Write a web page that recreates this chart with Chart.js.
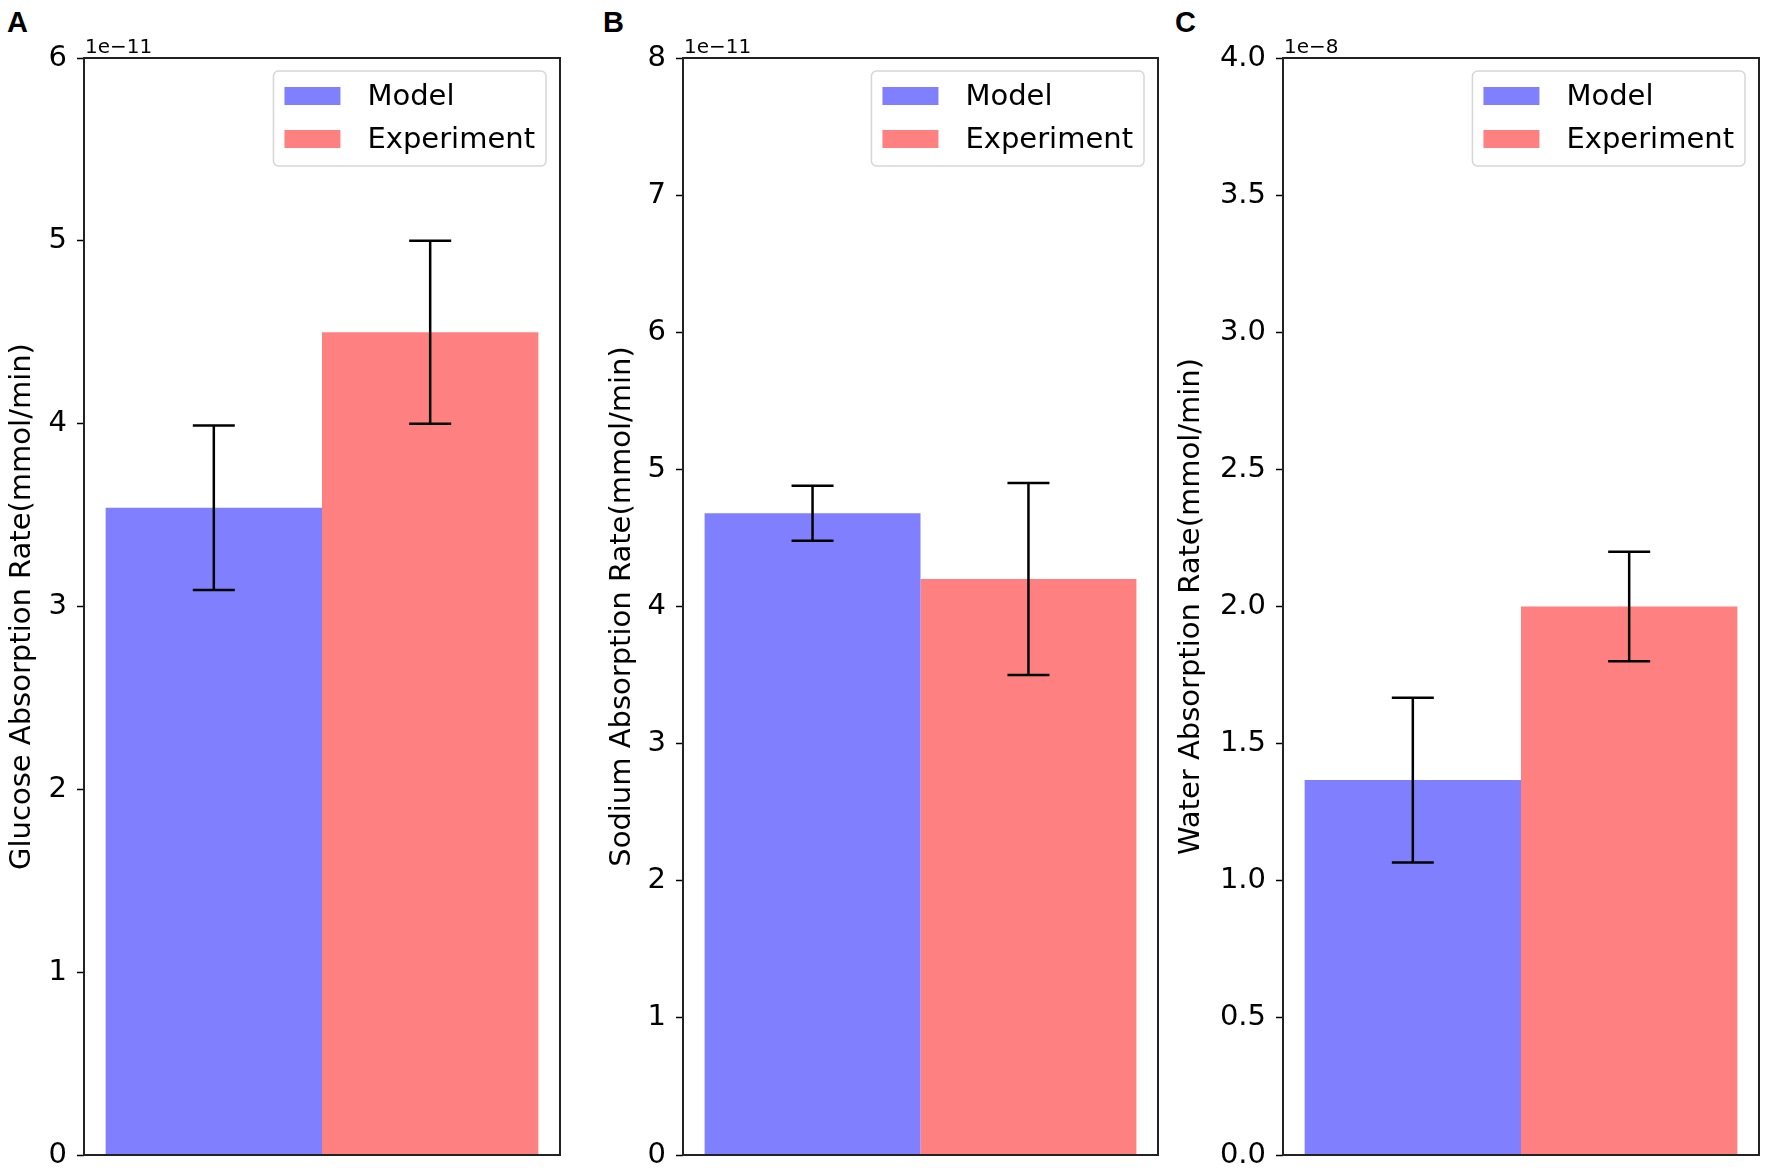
<!DOCTYPE html>
<html lang="en">
  <head>
    <meta charset="UTF-8" />
    <title>Absorption Rates: Model vs Experiment</title>
    <script src="https://cdn.jsdelivr.net/npm/chart.js"></script>
    <style>
      body { margin: 0; background: #fff; }
      .panel { position: absolute; top: 0; }
      .letter {
        position: absolute;
        top: 8px;
        font: bold 29px "Liberation Sans", Arial, sans-serif;
        line-height: 1;
        color: #000;
      }
    </style>
  </head>
  <body>
    <div class="letter" style="left: 7px">A</div>
    <div class="letter" style="left: 603px">B</div>
    <div class="letter" style="left: 1175px">C</div>

    <canvas id="chartA" class="panel" style="left: 0px" width="580" height="1174"></canvas>
    <canvas id="chartB" class="panel" style="left: 600px" width="572" height="1174"></canvas>
    <canvas id="chartC" class="panel" style="left: 1172px" width="600" height="1174"></canvas>

    <script>
      // values are in units of the offset shown above each axis
      const seriesLabels = ["Model", "Experiment"];
      const modelValues = [3.54, 4.68, 1.367];
      const modelErrors = [0.45, 0.2, 0.3];
      const experimentValues = [4.5, 4.2, 2.0];
      const experimentErrors = [0.5, 0.7, 0.2];

      const yTitles = [
        "Glucose Absorption Rate(mmol/min)",
        "Sodium Absorption Rate(mmol/min)",
        "Water Absorption Rate(mmol/min)",
      ];
      const yMax = [6, 8, 4];
      const yStep = [1, 1, 0.5];
      const yDecimals = [0, 0, 1];
      const offsetTexts = ["1e\u221211", "1e\u221211", "1e\u22128"];

      const FONT = "'DejaVu Sans', sans-serif";

      const errorBarPlugin = {
        id: "errorBars",
        afterDatasetsDraw(chart) {
          const ctx = chart.ctx;
          const y = chart.scales.y;
          ctx.save();
          ctx.strokeStyle = "#000";
          ctx.lineWidth = 2.5;
          chart.data.datasets.forEach((ds, i) => {
            const bar = chart.getDatasetMeta(i).data[0];
            const v = ds.data[0];
            const e = ds.errorBars[0];
            const top = y.getPixelForValue(v + e);
            const bot = y.getPixelForValue(v - e);
            ctx.beginPath();
            ctx.moveTo(bar.x, top);
            ctx.lineTo(bar.x, bot);
            ctx.moveTo(bar.x - 21, top);
            ctx.lineTo(bar.x + 21, top);
            ctx.moveTo(bar.x - 21, bot);
            ctx.lineTo(bar.x + 21, bot);
            ctx.stroke();
          });
          ctx.restore();
        },
      };

      const framePlugin = {
        id: "frame",
        afterDraw(chart, args, opts) {
          const { ctx, chartArea: a } = chart;
          ctx.save();
          ctx.strokeStyle = "#222";
          ctx.lineWidth = 2;
          ctx.strokeRect(a.left, a.top, a.right - a.left, a.bottom - a.top);

          // offset text above the axis
          ctx.fillStyle = "#000";
          ctx.font = "20px " + FONT;
          ctx.textAlign = "left";
          ctx.textBaseline = "alphabetic";
          ctx.fillText(opts.offsetText, a.left + 1, a.top - 5);

          // legend box in the upper right
          ctx.font = "29px " + FONT;
          const textW = Math.max(
            ...chart.data.datasets.map((d) => ctx.measureText(d.label).width)
          );
          const w = 11 + 56 + 27 + textW + 11;
          const h = 95;
          const bx = a.right - 14 - w;
          const by = a.top + 13;
          ctx.beginPath();
          ctx.roundRect(bx, by, w, h, 5);
          ctx.fillStyle = "rgba(255,255,255,0.8)";
          ctx.fill();
          ctx.strokeStyle = "#d6d6d6";
          ctx.lineWidth = 1.5;
          ctx.stroke();
          chart.data.datasets.forEach((d, i) => {
            const cy = by + 25 + i * 43;
            ctx.fillStyle = d.backgroundColor;
            ctx.fillRect(bx + 11, cy - 9, 56, 18);
            ctx.fillStyle = "#000";
            ctx.textBaseline = "middle";
            ctx.fillText(d.label, bx + 11 + 56 + 27, cy + 1);
          });
          ctx.restore();
        },
      };

      function drawPanel(id, k, axisWidth, padRight, titlePad) {
        const ctx = document.getElementById(id).getContext("2d");
        new Chart(ctx, {
          type: "bar",
          data: {
            labels: [""],
            datasets: [
              {
                label: seriesLabels[0],
                data: [modelValues[k]],
                errorBars: [modelErrors[k]],
                backgroundColor: "rgb(128, 128, 255)",
              },
              {
                label: seriesLabels[1],
                data: [experimentValues[k]],
                errorBars: [experimentErrors[k]],
                backgroundColor: "rgb(255, 128, 128)",
              },
            ],
          },
          options: {
            responsive: false,
            animation: false,
            devicePixelRatio: 1,
            layout: { padding: { left: 0, right: padRight, top: 58, bottom: 19 } },
            datasets: {
              bar: { categoryPercentage: 2 / 2.2, barPercentage: 1, borderWidth: 0 },
            },
            plugins: {
              legend: { display: false },
              tooltip: { enabled: false },
              frame: { offsetText: offsetTexts[k] },
            },
            scales: {
              x: { type: "category", display: false, offset: true },
              y: {
                min: 0,
                max: yMax[k],
                afterFit(scale) {
                  scale.width = axisWidth;
                  scale.paddingTop = 0;
                  scale.paddingBottom = 0;
                },
                ticks: {
                  stepSize: yStep[k],
                  padding: 10,
                  color: "#000",
                  font: { family: FONT, size: 29 },
                  callback: (v) => Number(v).toFixed(yDecimals[k]),
                },
                grid: {
                  drawOnChartArea: false,
                  drawTicks: true,
                  tickLength: 7,
                  tickColor: "#000",
                  tickWidth: 1.5,
                },
                border: { display: false },
                title: {
                  display: true,
                  text: yTitles[k],
                  color: "#000",
                  font: { family: FONT, size: 29 },
                  padding: { top: titlePad, bottom: 0 },
                },
              },
            },
          },
          plugins: [errorBarPlugin, framePlugin],
        });
      }

      drawPanel("chartA", 0, 84, 20, 5);
      drawPanel("chartB", 1, 83, 14, 5);
      drawPanel("chartC", 2, 111, 13, 2);
    </script>
  </body>
</html>
